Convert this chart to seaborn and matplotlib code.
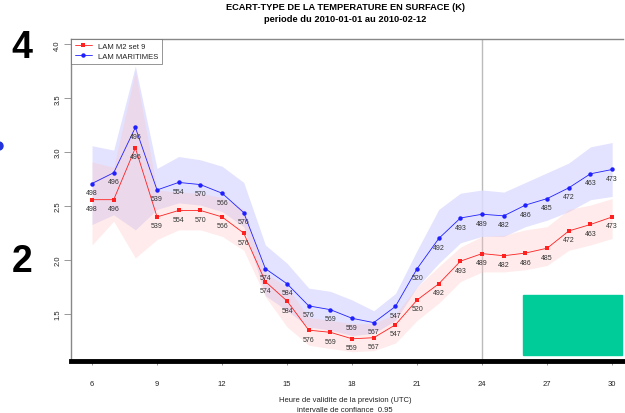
import matplotlib
matplotlib.use("Agg")
import matplotlib.pyplot as plt
import matplotlib.patches as mpatches
import seaborn as sns
import pandas as pd

hours = list(range(6, 31))
counts = [498, 496, 496, 539, 554, 570, 566, 576, 574, 584, 576, 569, 559,
          567, 547, 520, 492, 493, 489, 482, 486, 485, 472, 463, 473]

red_mean = [2.56, 2.56, 3.04, 2.40, 2.46, 2.46, 2.40, 2.25, 1.80, 1.62, 1.35, 1.33, 1.27,
            1.28, 1.40, 1.63, 1.78, 1.99, 2.06, 2.04, 2.065, 2.11, 2.27, 2.33, 2.40]
red_hi = [2.91, 2.86, 3.75, 2.65, 2.63, 2.62, 2.58, 2.47, 1.88, 1.75, 1.47, 1.44, 1.41,
          1.41, 1.50, 1.75, 1.94, 2.12, 2.22, 2.23, 2.28, 2.31, 2.47, 2.51, 2.57]
red_lo = [2.14, 2.36, 2.02, 2.19, 2.28, 2.28, 2.22, 2.09, 1.66, 1.38, 1.21, 1.18, 1.15,
          1.16, 1.23, 1.44, 1.60, 1.80, 1.89, 1.89, 1.91, 1.95, 2.09, 2.14, 2.20]

blue_mean = [2.71, 2.81, 3.23, 2.65, 2.72, 2.70, 2.62, 2.44, 1.92, 1.78, 1.575, 1.54, 1.46,
             1.42, 1.57, 1.92, 2.20, 2.39, 2.425, 2.41, 2.51, 2.57, 2.67, 2.80, 2.84]
blue_hi = [3.06, 3.02, 3.80, 2.85, 2.96, 2.93, 2.87, 2.72, 2.14, 1.97, 1.74, 1.71, 1.63,
           1.53, 1.69, 2.09, 2.47, 2.62, 2.65, 2.63, 2.72, 2.81, 2.90, 3.05, 3.09]
blue_lo = [2.33, 2.42, 2.28, 2.47, 2.53, 2.51, 2.45, 2.31, 1.67, 1.53, 1.38, 1.35, 1.30,
           1.32, 1.44, 1.75, 1.97, 2.16, 2.22, 2.22, 2.31, 2.37, 2.45, 2.56, 2.59]

xticks = [6, 9, 12, 15, 18, 21, 24, 27, 30]
yticks = [1.5, 2.0, 2.5, 3.0, 3.5, 4.0]

sns.set_style("white")
plt.rcParams['font.family'] = ['Liberation Sans', 'DejaVu Sans']
plt.rcParams['text.color'] = 'black'

W, H = 625, 414
fig = plt.figure(figsize=(W / 100, H / 100), dpi=100)
ax = fig.add_axes([71 / W, 1 - 362 / H, (623 - 71) / W, (362 - 40) / H])

df = pd.DataFrame({"h": hours, "red": red_mean, "blue": blue_mean})

ax.fill_between(hours, blue_lo, blue_hi, color=(0.87, 0.87, 1.0), alpha=0.85, lw=0, zorder=1)
ax.fill_between(hours, red_lo, red_hi, color=(1.0, 0.75, 0.75), alpha=0.3, lw=0, zorder=2)

sns.lineplot(data=df, x="h", y="red", ax=ax, color="#ff2020", marker="s", markersize=3.2,
             markeredgewidth=0, lw=0.6, label="LAM M2 set 9", zorder=4)
sns.lineplot(data=df, x="h", y="blue", ax=ax, color="#2020ff", marker="o", markersize=3.2,
             markeredgewidth=0, lw=0.6, label="LAM MARITIMES", zorder=4)

for h, v, n in zip(hours, red_mean, counts):
    ax.annotate(str(n), (h, v), xytext=(0, -6.5), textcoords="offset points",
                ha="center", va="center", fontsize=5, color="#333333", zorder=5)
for h, v, n in zip(hours, blue_mean, counts):
    ax.annotate(str(n), (h, v), xytext=(0, -6.5), textcoords="offset points",
                ha="center", va="center", fontsize=5, color="#333333", zorder=5)

ax.axvline(24, color="#bbbbbb", lw=1, zorder=0)

ax.set_xlim(5.03, 30.5)
ax.set_ylim(1.064, 4.05)
ax.set_xticks(xticks)
ax.set_xticklabels([str(t) for t in xticks])
ax.set_yticks(yticks)
ax.set_yticklabels([f"{t:.1f}" for t in yticks], rotation=90, va="center")
ax.tick_params(axis="x", length=3, width=0.6, color="#888888", pad=11, labelsize=5.5,
               labelcolor="#222222", bottom=True)
ax.tick_params(axis="y", length=5, width=0.6, color="#888888", pad=2, labelsize=5.5,
               labelcolor="#222222", left=True)
ax.set_xlabel("")
ax.set_ylabel("")

for s in ["top", "left"]:
    ax.spines[s].set_color("#888888")
    ax.spines[s].set_linewidth(1.0)
ax.spines["right"].set_visible(False)
ax.spines["bottom"].set_color("black")
ax.spines["bottom"].set_linewidth(3.5)

leg = ax.legend(loc="upper left", bbox_to_anchor=(0, 1), borderaxespad=0, fontsize=5.5,
                frameon=True, fancybox=False, edgecolor="#666666", handlelength=2.2,
                borderpad=0.5, labelspacing=0.3, handletextpad=0.8)
leg.get_frame().set_linewidth(0.6)
for t in leg.get_texts():
    t.set_color("#222222")

fig.text(345 / W, 1 - 8 / H, "ECART-TYPE DE LA TEMPERATURE EN SURFACE (K)", ha="center",
         va="center", fontsize=6.7, fontweight="bold", color="black")
fig.text(345 / W, 1 - 20 / H, "periode du 2010-01-01 au 2010-02-12", ha="center",
         va="center", fontsize=6.7, fontweight="bold", color="black")
fig.text(345 / W, 1 - 401 / H, "Heure de validite de la prevision (UTC)", ha="center",
         va="center", fontsize=5.5, color="#222222")
fig.text(345 / W, 1 - 411 / H, "intervalle de confiance  0.95", ha="center",
         va="center", fontsize=5.5, color="#222222")

fig.text(22 / W, 1 - 48 / H, "4", ha="center", va="center", fontsize=27, fontweight="bold",
         color="black")
fig.text(22 / W, 1 - 262 / H, "2", ha="center", va="center", fontsize=27, fontweight="bold",
         color="black")

fig.patches.append(mpatches.Rectangle((523 / W, 1 - 356 / H), 99 / W, 60 / H,
                                      transform=fig.transFigure, color="#00cc99", zorder=10))
fig.patches.append(mpatches.Ellipse((-1 / W, 1 - 147 / H), 8 / W, 8 / H,
                                    transform=fig.transFigure, color="#2233dd", zorder=10))

fig.savefig("out.png", dpi=100)
